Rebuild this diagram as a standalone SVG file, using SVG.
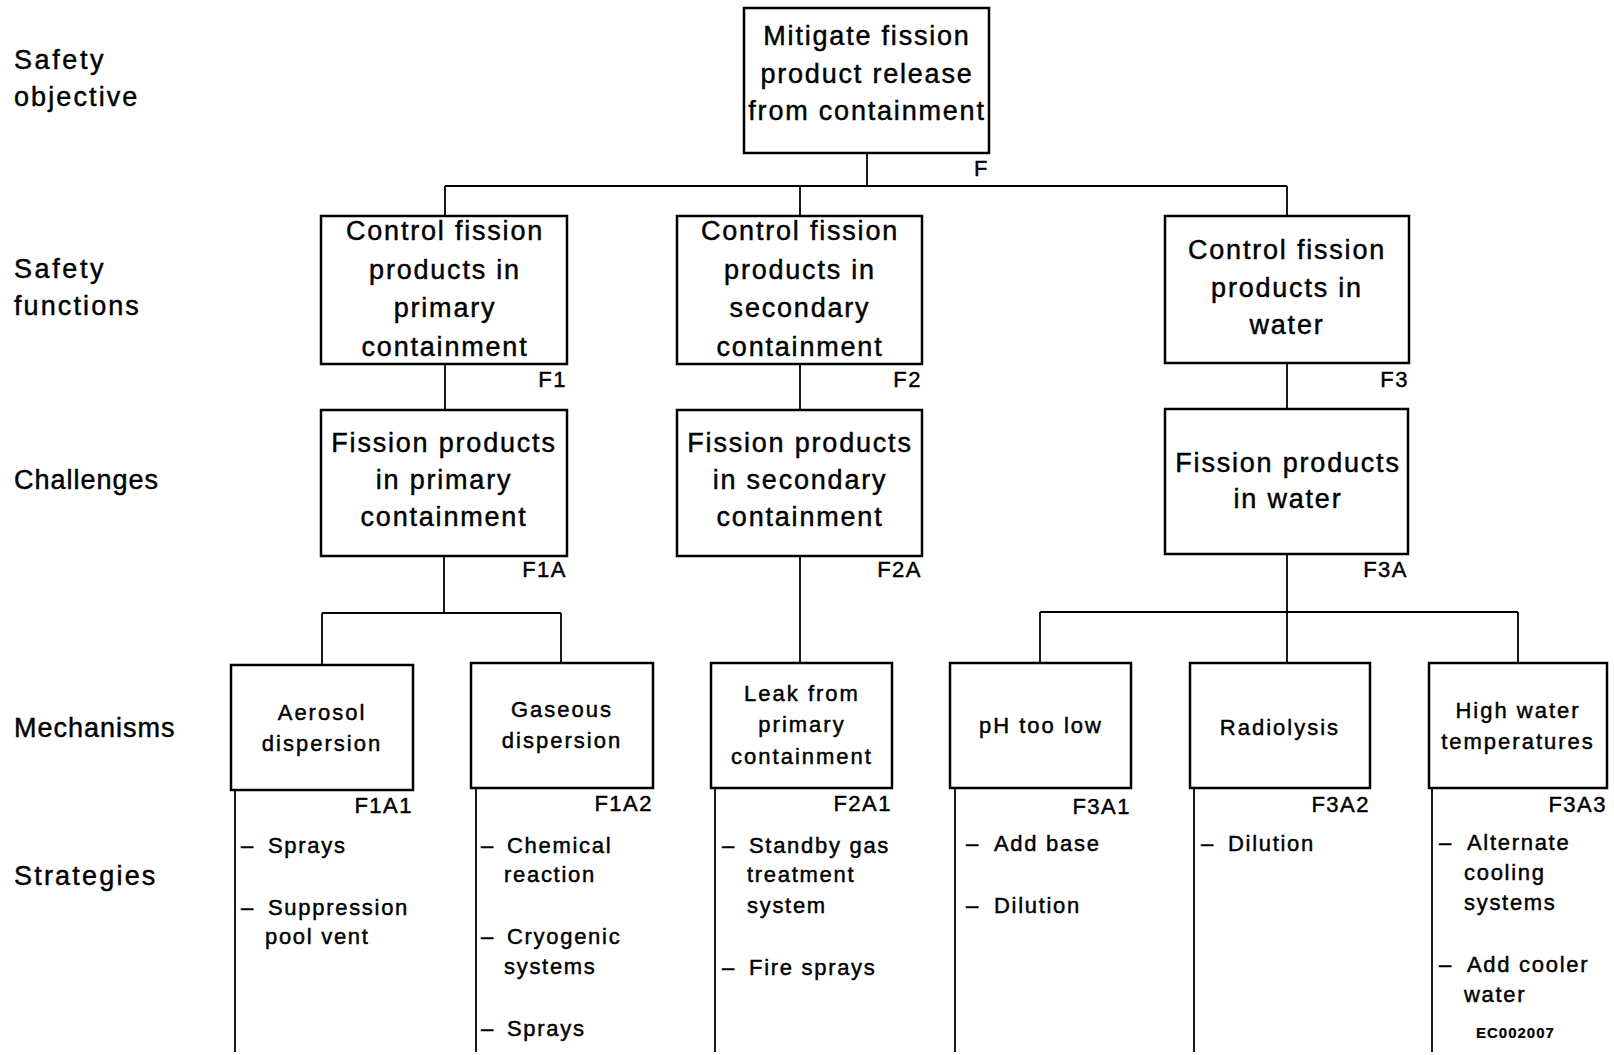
<svg xmlns="http://www.w3.org/2000/svg" width="1614" height="1055" viewBox="0 0 1614 1055">
<style>
text{font-family:"Liberation Sans",Arial,sans-serif;fill:#000;stroke:#000;stroke-width:0.45}
.lv{font-size:27px;letter-spacing:1px}
.bx{font-size:27px;letter-spacing:1.8px;text-anchor:middle}
.mx{font-size:22px;letter-spacing:2px;text-anchor:middle}
.st{font-size:22px;letter-spacing:1.7px}
.id{font-size:22px;letter-spacing:1.5px;text-anchor:end}
.sm{font-size:15px;font-weight:bold;letter-spacing:1px;stroke-width:0.2}
rect{fill:#fff;stroke:#000;stroke-width:2.5}
.c line{stroke:#000;stroke-width:1.8}
</style>
<rect x="0" y="0" width="1614" height="1055" style="fill:#fff;stroke:none"/>
<g id="levels">
<text class="lv" x="14" y="69" style="letter-spacing:2.6px">Safety</text>
<text class="lv" x="14" y="106" style="letter-spacing:2.1px">objective</text>
<text class="lv" x="14" y="278" style="letter-spacing:2.6px">Safety</text>
<text class="lv" x="14" y="315" style="letter-spacing:2.1px">functions</text>
<text class="lv" x="14" y="489">Challenges</text>
<text class="lv" x="14" y="737">Mechanisms</text>
<text class="lv" x="14" y="885" style="letter-spacing:2.2px">Strategies</text>
</g>
<g class="c" id="connectors">
<line x1="867" y1="153" x2="867" y2="186"/>
<line x1="445" y1="186" x2="1287" y2="186"/>
<line x1="445" y1="186" x2="445" y2="216"/>
<line x1="800" y1="186" x2="800" y2="216"/>
<line x1="1287" y1="186" x2="1287" y2="216"/>
<line x1="445" y1="364" x2="445" y2="410"/>
<line x1="800" y1="364" x2="800" y2="410"/>
<line x1="1287" y1="363" x2="1287" y2="409"/>
<line x1="444" y1="556" x2="444" y2="613"/>
<line x1="322" y1="613" x2="561" y2="613"/>
<line x1="322" y1="613" x2="322" y2="665"/>
<line x1="561" y1="613" x2="561" y2="663"/>
<line x1="800" y1="556" x2="800" y2="663"/>
<line x1="1287" y1="554" x2="1287" y2="663"/>
<line x1="1040" y1="612" x2="1518" y2="612"/>
<line x1="1040" y1="612" x2="1040" y2="663"/>
<line x1="1518" y1="612" x2="1518" y2="663"/>
<line x1="235" y1="790" x2="235" y2="1052"/>
<line x1="476" y1="788" x2="476" y2="1052"/>
<line x1="715" y1="788" x2="715" y2="1052"/>
<line x1="955" y1="788" x2="955" y2="1052"/>
<line x1="1194" y1="788" x2="1194" y2="1052"/>
<line x1="1432" y1="788" x2="1432" y2="1052"/>
</g>
<g id="F">
<rect x="744" y="8" width="245" height="145"/>
<text class="bx" x="867" y="45">Mitigate fission</text>
<text class="bx" x="867" y="83">product release</text>
<text class="bx" x="867" y="120">from containment</text>
<text class="id" x="989" y="176">F</text>
</g>
<g id="F1">
<rect x="321" y="216" width="246" height="148"/>
<text class="bx" x="445" y="240">Control fission</text>
<text class="bx" x="445" y="279">products in</text>
<text class="bx" x="445" y="317">primary</text>
<text class="bx" x="445" y="356">containment</text>
<text class="id" x="567" y="387">F1</text>
</g>
<g id="F2">
<rect x="677" y="216" width="245" height="148"/>
<text class="bx" x="800" y="240">Control fission</text>
<text class="bx" x="800" y="279">products in</text>
<text class="bx" x="800" y="317">secondary</text>
<text class="bx" x="800" y="356">containment</text>
<text class="id" x="922" y="387">F2</text>
</g>
<g id="F3">
<rect x="1165" y="216" width="244" height="147"/>
<text class="bx" x="1287" y="259">Control fission</text>
<text class="bx" x="1287" y="297">products in</text>
<text class="bx" x="1287" y="334">water</text>
<text class="id" x="1409" y="387">F3</text>
</g>
<g id="F1A">
<rect x="321" y="410" width="246" height="146"/>
<text class="bx" x="444" y="452">Fission products</text>
<text class="bx" x="444" y="489">in primary</text>
<text class="bx" x="444" y="526">containment</text>
<text class="id" x="567" y="577">F1A</text>
</g>
<g id="F2A">
<rect x="677" y="410" width="245" height="146"/>
<text class="bx" x="800" y="452">Fission products</text>
<text class="bx" x="800" y="489">in secondary</text>
<text class="bx" x="800" y="526">containment</text>
<text class="id" x="922" y="577">F2A</text>
</g>
<g id="F3A">
<rect x="1165" y="409" width="243" height="145"/>
<text class="bx" x="1288" y="472">Fission products</text>
<text class="bx" x="1288" y="508">in water</text>
<text class="id" x="1408" y="577">F3A</text>
</g>
<g id="F1A1">
<rect x="231" y="665" width="182" height="125"/>
<text class="mx" x="322" y="720">Aerosol</text>
<text class="mx" x="322" y="751">dispersion</text>
<text class="id" x="413" y="813">F1A1</text>
</g>
<g id="F1A2">
<rect x="471" y="663" width="182" height="125"/>
<text class="mx" x="562" y="717">Gaseous</text>
<text class="mx" x="562" y="748">dispersion</text>
<text class="id" x="653" y="811">F1A2</text>
</g>
<g id="F2A1">
<rect x="711" y="663" width="181" height="125"/>
<text class="mx" x="802" y="701">Leak from</text>
<text class="mx" x="802" y="732">primary</text>
<text class="mx" x="802" y="764">containment</text>
<text class="id" x="892" y="811">F2A1</text>
</g>
<g id="F3A1">
<rect x="950" y="663" width="181" height="125"/>
<text class="mx" x="1041" y="733">pH too low</text>
<text class="id" x="1131" y="814">F3A1</text>
</g>
<g id="F3A2">
<rect x="1190" y="663" width="180" height="125"/>
<text class="mx" x="1280" y="735">Radiolysis</text>
<text class="id" x="1370" y="812">F3A2</text>
</g>
<g id="F3A3">
<rect x="1429" y="663" width="178" height="125"/>
<text class="mx" x="1518" y="718">High water</text>
<text class="mx" x="1518" y="749">temperatures</text>
<text class="id" x="1607" y="812">F3A3</text>
</g>
<g id="strategies">
<text class="st" x="241" y="853">–<tspan x="268">Sprays</tspan></text>
<text class="st" x="241" y="915">–<tspan x="268">Suppression</tspan></text>
<text class="st" x="265" y="944">pool vent</text>
<text class="st" x="481" y="853">–<tspan x="507">Chemical</tspan></text>
<text class="st" x="504" y="882">reaction</text>
<text class="st" x="481" y="944">–<tspan x="507">Cryogenic</tspan></text>
<text class="st" x="504" y="974">systems</text>
<text class="st" x="481" y="1036">–<tspan x="507">Sprays</tspan></text>
<text class="st" x="722" y="853">–<tspan x="749">Standby gas</tspan></text>
<text class="st" x="747" y="882">treatment</text>
<text class="st" x="747" y="913">system</text>
<text class="st" x="722" y="975">–<tspan x="749">Fire sprays</tspan></text>
<text class="st" x="966" y="851">–<tspan x="994">Add base</tspan></text>
<text class="st" x="966" y="913">–<tspan x="994">Dilution</tspan></text>
<text class="st" x="1201" y="851">–<tspan x="1228">Dilution</tspan></text>
<text class="st" x="1439" y="850">–<tspan x="1467">Alternate</tspan></text>
<text class="st" x="1464" y="880">cooling</text>
<text class="st" x="1464" y="910">systems</text>
<text class="st" x="1439" y="972">–<tspan x="1467">Add cooler</tspan></text>
<text class="st" x="1464" y="1002">water</text>
<text class="sm" x="1476" y="1038">EC002007</text>
</g>
</svg>
